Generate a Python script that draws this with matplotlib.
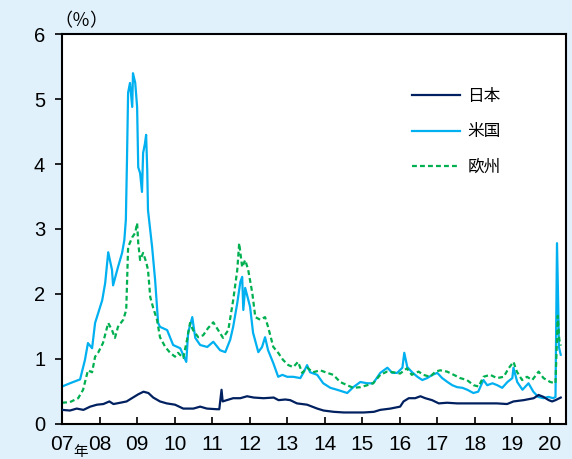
import matplotlib
matplotlib.use("Agg")
import matplotlib.pyplot as plt

# ---- data (decimal year, %) ----
us_t = [2007.00, 2007.21, 2007.48, 2007.61, 2007.69, 2007.80, 2007.88, 2008.07, 2008.15, 2008.23,
        2008.33, 2008.36, 2008.49, 2008.60, 2008.66, 2008.70, 2008.73, 2008.76, 2008.81, 2008.87,
        2008.89, 2008.95, 2009.00, 2009.03, 2009.08, 2009.13, 2009.16, 2009.21, 2009.24, 2009.27,
        2009.29, 2009.40, 2009.48, 2009.56, 2009.61, 2009.80, 2009.96, 2010.15, 2010.31, 2010.36,
        2010.47, 2010.55, 2010.68, 2010.87, 2011.03, 2011.21, 2011.35, 2011.48, 2011.56, 2011.67,
        2011.75, 2011.80, 2011.83, 2011.88, 2011.93, 2012.01, 2012.09, 2012.23, 2012.33, 2012.41,
        2012.49, 2012.63, 2012.76, 2012.87, 2013.00, 2013.16, 2013.35, 2013.43, 2013.53, 2013.61,
        2013.80, 2013.96, 2014.15, 2014.33, 2014.60, 2014.76, 2014.95, 2015.13, 2015.29, 2015.48,
        2015.67, 2015.80, 2015.93, 2016.07, 2016.12, 2016.20, 2016.33, 2016.47, 2016.60, 2016.73,
        2016.87, 2017.00, 2017.13, 2017.27, 2017.40, 2017.53, 2017.67, 2017.80, 2017.96, 2018.09,
        2018.23, 2018.33, 2018.47, 2018.60, 2018.73, 2018.87, 2019.00, 2019.03, 2019.13, 2019.27,
        2019.43, 2019.56, 2019.69, 2019.83, 2019.96, 2020.09, 2020.15, 2020.19, 2020.23, 2020.24,
        2020.29]
us_v = [0.57, 0.62, 0.68, 0.98, 1.24, 1.16, 1.55, 1.90, 2.17, 2.64,
        2.37, 2.13, 2.41, 2.63, 2.83, 3.14, 4.06, 5.10, 5.25, 4.88,
        5.40, 5.25, 4.88, 3.95, 3.86, 3.57, 4.17, 4.32, 4.45, 3.91,
        3.29, 2.72, 2.21, 1.55, 1.49, 1.44, 1.21, 1.16, 0.95, 1.40,
        1.64, 1.32, 1.21, 1.18, 1.26, 1.13, 1.10, 1.29, 1.49, 1.86,
        2.18, 2.26, 1.75, 2.09, 1.98, 1.80, 1.40, 1.10, 1.18, 1.33,
        1.13, 0.93, 0.72, 0.75, 0.72, 0.72, 0.70, 0.78, 0.90, 0.79,
        0.75, 0.62, 0.55, 0.52, 0.47, 0.56, 0.64, 0.62, 0.62, 0.78,
        0.86, 0.78, 0.78, 0.86, 1.09, 0.87, 0.79, 0.72, 0.67, 0.70,
        0.75, 0.78, 0.70, 0.64, 0.59, 0.56, 0.55, 0.52, 0.47, 0.49,
        0.67, 0.59, 0.62, 0.59, 0.55, 0.64, 0.70, 0.86, 0.64, 0.52,
        0.62, 0.49, 0.41, 0.39, 0.41, 0.39, 0.41, 2.78, 1.60, 1.18,
        1.06]

eu_t = [2007.00, 2007.21, 2007.43, 2007.56, 2007.69, 2007.80, 2007.88, 2007.96, 2008.09, 2008.23,
        2008.33, 2008.41, 2008.49, 2008.63, 2008.71, 2008.76, 2008.87, 2008.95, 2009.00, 2009.03,
        2009.08, 2009.16, 2009.24, 2009.29, 2009.35, 2009.43, 2009.53, 2009.61, 2009.75, 2009.88,
        2010.01, 2010.09, 2010.23, 2010.33, 2010.41, 2010.49, 2010.63, 2010.76, 2010.89, 2011.03,
        2011.16, 2011.29, 2011.43, 2011.56, 2011.67, 2011.72, 2011.80, 2011.88, 2011.96, 2012.07,
        2012.15, 2012.28, 2012.41, 2012.49, 2012.63, 2012.76, 2012.89, 2013.03, 2013.16, 2013.29,
        2013.40, 2013.53, 2013.69, 2013.88, 2014.07, 2014.23, 2014.41, 2014.60, 2014.76, 2014.95,
        2015.13, 2015.29, 2015.48, 2015.66, 2015.83, 2016.01, 2016.19, 2016.32, 2016.50, 2016.63,
        2016.81, 2016.95, 2017.08, 2017.26, 2017.44, 2017.61, 2017.79, 2017.97, 2018.10, 2018.23,
        2018.41, 2018.59, 2018.77, 2018.90, 2019.03, 2019.12, 2019.26, 2019.39, 2019.53, 2019.70,
        2019.83, 2020.01, 2020.15, 2020.21, 2020.25, 2020.29]
eu_v = [0.32, 0.33, 0.39, 0.52, 0.82, 0.79, 1.03, 1.09, 1.24, 1.55,
        1.44, 1.32, 1.49, 1.60, 1.75, 2.72, 2.87, 2.94, 3.09, 2.78,
        2.52, 2.63, 2.49, 2.37, 1.95, 1.78, 1.60, 1.33, 1.18, 1.09,
        1.03, 1.09, 1.01, 1.29, 1.55, 1.44, 1.33, 1.36, 1.47, 1.56,
        1.44, 1.32, 1.44, 1.90, 2.37, 2.78, 2.41, 2.52, 2.37, 2.01,
        1.64, 1.60, 1.64, 1.49, 1.18, 1.09, 0.98, 0.90, 0.87, 0.95,
        0.78, 0.86, 0.79, 0.82, 0.78, 0.75, 0.64, 0.59, 0.55, 0.56,
        0.59, 0.62, 0.75, 0.80, 0.79, 0.77, 0.85, 0.75, 0.80, 0.75,
        0.72, 0.80, 0.82, 0.80, 0.75, 0.70, 0.67, 0.59, 0.57, 0.72,
        0.75, 0.70, 0.72, 0.85, 0.95, 0.80, 0.67, 0.72, 0.67, 0.80,
        0.70, 0.64, 0.62, 1.66, 1.30, 1.20]

jp_t = [2007.00, 2007.21, 2007.39, 2007.57, 2007.75, 2007.93, 2008.10, 2008.26, 2008.37, 2008.55,
        2008.72, 2008.86, 2009.03, 2009.17, 2009.30, 2009.43, 2009.61, 2009.79, 2010.01, 2010.23,
        2010.50, 2010.68, 2010.86, 2011.13, 2011.19, 2011.25, 2011.28, 2011.39, 2011.56, 2011.75,
        2011.93, 2012.11, 2012.37, 2012.64, 2012.77, 2012.95, 2013.08, 2013.26, 2013.53, 2013.80,
        2013.97, 2014.24, 2014.51, 2014.77, 2015.04, 2015.31, 2015.48, 2015.75, 2016.01, 2016.10,
        2016.24, 2016.41, 2016.55, 2016.68, 2016.86, 2017.04, 2017.26, 2017.53, 2017.79, 2018.06,
        2018.33, 2018.59, 2018.86, 2019.03, 2019.30, 2019.57, 2019.70, 2019.83, 2019.97, 2020.06,
        2020.15, 2020.29]
jp_v = [0.21, 0.20, 0.23, 0.21, 0.26, 0.29, 0.30, 0.34, 0.30, 0.32,
        0.34, 0.39, 0.45, 0.49, 0.47, 0.40, 0.34, 0.31, 0.29, 0.23,
        0.23, 0.26, 0.23, 0.22, 0.22, 0.52, 0.34, 0.36, 0.39, 0.39,
        0.42, 0.40, 0.39, 0.40, 0.36, 0.37, 0.36, 0.31, 0.29, 0.23,
        0.20, 0.18, 0.17, 0.17, 0.17, 0.18, 0.21, 0.23, 0.26, 0.34,
        0.39, 0.39, 0.42, 0.39, 0.36, 0.31, 0.32, 0.31, 0.31, 0.31,
        0.31, 0.31, 0.30, 0.34, 0.36, 0.39, 0.44, 0.41, 0.36, 0.34,
        0.36, 0.40]

series_names = ["日本", "米国", "欧州"]
year_ticks = list(range(2007, 2021))
year_labels = ["07", "08", "09", "10", "11", "12", "13", "14", "15", "16", "17", "18", "19", "20"]
y_ticks = [0, 1, 2, 3, 4, 5, 6]

# ---- styling ----
BG = "#E0F1FC"
C_JP = "#002060"
C_US = "#00B0F0"
C_EU = "#00B050"
NUM_FONT = ["Liberation Sans Narrow", "Liberation Sans", "DejaVu Sans"]
CJK_FONT = ["Noto Sans CJK JP", "DejaVu Sans"]

fig = plt.figure(figsize=(5.72, 4.59), dpi=100, facecolor=BG)
ax = fig.add_axes([61.5 / 572, (459 - 423.5) / 459, (566 - 61.5) / 572, (423.5 - 34.3) / 459])
ax.set_facecolor("white")

ax.plot(jp_t, jp_v, color=C_JP, lw=1.6, label=series_names[0], zorder=3)
ax.plot(us_t, us_v, color=C_US, lw=1.6, label=series_names[1], zorder=2)
ax.plot(eu_t, eu_v, color=C_EU, lw=1.6, ls=(0, (2.2, 1.4)), label=series_names[2], zorder=2)

ax.set_xlim(2006.985, 2020.43)
ax.set_ylim(0, 6)

ax.set_yticks(y_ticks)
ax.set_yticklabels([str(v) for v in y_ticks], family=NUM_FONT, fontsize=14.5)
ax.set_xticks(year_ticks)
ax.set_xticklabels(year_labels, family=NUM_FONT, fontsize=15)
ax.tick_params(axis="y", direction="out", length=4.7, width=1.2, pad=7, colors="black")
ax.tick_params(axis="x", direction="in", length=5, width=1.2, pad=8.5, colors="black")

for s in ax.spines.values():
    s.set_linewidth(1.5)
    s.set_color("black")

leg = ax.legend(loc="upper left", bbox_to_anchor=(0.694, 0.862), frameon=False,
                prop={"family": CJK_FONT, "size": 12}, handlelength=2.9,
                handletextpad=0.45, labelspacing=1.1, borderpad=0, borderaxespad=0)

fig.text(54 / 572, 1 - 21 / 459, "（％）", family=CJK_FONT, fontsize=13, ha="left", va="center")
fig.text(81 / 572, 0.0, "年", family=CJK_FONT, fontsize=10.5, ha="center", va="bottom")

fig.savefig("out.png", dpi=100, facecolor=BG)
